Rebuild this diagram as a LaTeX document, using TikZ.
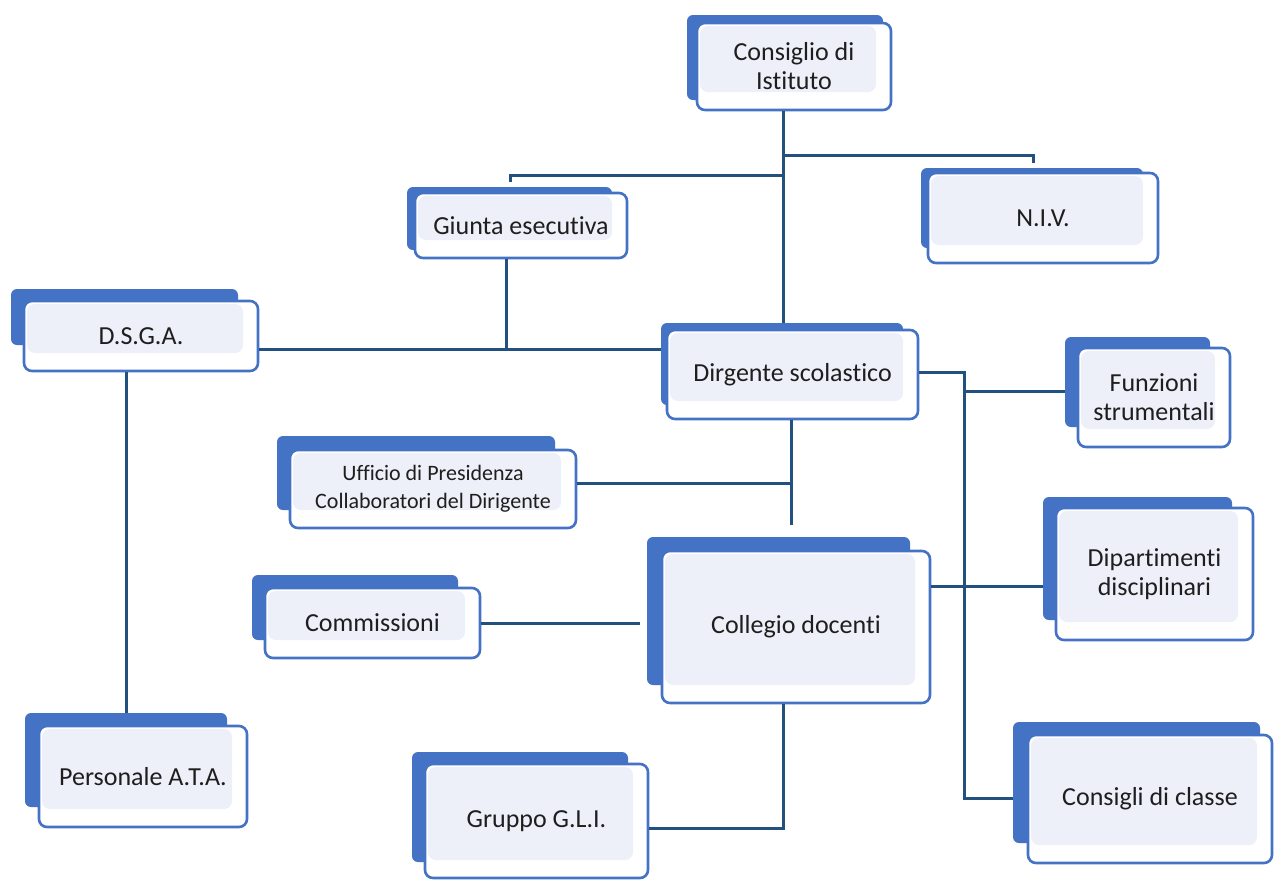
\documentclass[tikz,border=0pt]{standalone}
\usepackage{fontspec}
\setmainfont{Carlito}[RawFeature={-liga}]
\definecolor{bblue}{HTML}{4472C4}
\definecolor{lav}{HTML}{EDF0F8}
\definecolor{conncol}{HTML}{22507F}
\definecolor{txt}{HTML}{1E1E1E}
\tikzset{
  backbox/.style={fill=bblue, rounded corners=3pt, inner sep=0pt},
  frontbox/.style={draw=bblue, line width=1.3pt, fill=white, rounded corners=4pt, inner sep=0pt,
    align=center, text=txt, font=\fontsize{13}{14.5}\selectfont,
    path picture={\fill[lav] ([shift={(1.5pt,-1.5pt)}]path picture bounding box.north west)
      rectangle ([shift={(-7.5pt,9pt)}]path picture bounding box.south east);}},
  smalltext/.style={font=\fontsize{11}{14}\selectfont},
  conn/.style={draw=conncol, line width=1.5pt}
}
\newcommand\orgbx[7]{%
  \pgfmathsetmacro\cxx{(#3+#5)/2}\pgfmathsetmacro\cyy{(#4+#6)/2}%
  \pgfmathsetmacro\www{(#5-#3)*0.5}\pgfmathsetmacro\hhh{(#6-#4)*0.5}%
  \node[#1, minimum width=\www pt, minimum height=\hhh pt] (#2) at (\cxx,\cyy) {#7};}
\begin{document}
\begin{tikzpicture}[x=0.5pt,y=-0.5pt]
\useasboundingbox (0,0) rectangle (1275,880);
\fill[white] (0,0) rectangle (1275,880);
% junction coordinates
\coordinate (jtop) at (783,155);
\coordinate (jgi) at (783,175);
\coordinate (nivd) at (1033,163);
\coordinate (gid) at (510,182);
\coordinate (jd) at (506,349);
\coordinate (jr) at (964,372);
\coordinate (jf) at (964,391);
\coordinate (jdip) at (964,586);
\coordinate (jcc) at (964,798);
\coordinate (ju) at (791,483);
\coordinate (jbot) at (791,525);
\coordinate (jc) at (640,623);
\coordinate (jg) at (783,828);
% back boxes
\orgbx{backbox}{ci-b}{687}{15}{883}{100}{}
\orgbx{backbox}{ge-b}{407}{187}{612}{250}{}
\orgbx{backbox}{niv-b}{921}{168}{1143}{248}{}
\orgbx{backbox}{dsga-b}{11}{289}{238}{345}{}
\orgbx{backbox}{di-b}{661}{323}{903}{405}{}
\orgbx{backbox}{fs-b}{1065}{337}{1210}{427}{}
\orgbx{backbox}{up-b}{277}{436}{555}{510}{}
\orgbx{backbox}{dd-b}{1043}{497}{1232}{620}{}
\orgbx{backbox}{co-b}{252}{575}{458}{640}{}
\orgbx{backbox}{cd-b}{647}{537}{910}{685}{}
\orgbx{backbox}{ata-b}{25}{713}{227}{807}{}
\orgbx{backbox}{gl-b}{412}{752}{628}{862}{}
\orgbx{backbox}{cc-b}{1013}{722}{1260}{843}{}
% front boxes
\orgbx{frontbox}{ci}{697}{23}{891}{110}{Consiglio di\\Istituto}
\orgbx{frontbox}{ge}{415}{193}{627}{258}{Giunta esecutiva}
\orgbx{frontbox}{niv}{928}{173}{1158}{263}{N.I.V.}
\orgbx{frontbox}{dsga}{24}{301}{258}{371}{D.S.G.A.}
\orgbx{frontbox}{di}{667}{330}{918}{419}{Dirgente scolastico}
\orgbx{frontbox}{fs}{1078}{348}{1230}{447}{Funzioni\\strumentali}
\orgbx{frontbox,smalltext}{up}{290}{450}{576}{528}{Ufficio di Presidenza\\Collaboratori del Dirigente}
\orgbx{frontbox}{dd}{1056}{508}{1253}{640}{Dipartimenti\\disciplinari}
\orgbx{frontbox}{co}{265}{588}{480}{658}{Commissioni}
\orgbx{frontbox}{cd}{662}{551}{930}{703}{Collegio docenti}
\orgbx{frontbox}{ata}{39}{726}{247}{827}{Personale A.T.A.}
\orgbx{frontbox}{gl}{425}{764}{648}{878}{Gruppo G.L.I.}
\orgbx{frontbox}{cc}{1028}{735}{1272}{863}{Consigli di classe}
% connectors
\draw[conn] (ci.south -| jtop) -- (jtop |- di-b.north);
\draw[conn] (jtop) -| (nivd);
\draw[conn] (jgi) -| (gid);
\draw[conn] (ge.south -| jd) -- (jd);
\draw[conn] (dsga.east |- jd) -- (di-b.west |- jd);
\draw[conn] (ata-b.north) -- (ata-b.north |- dsga.south);
\draw[conn] (di.east |- jr) -- (jr) -- (jcc) -- (cc-b.west |- jcc);
\draw[conn] (jf) -- (fs-b.west |- jf);
\draw[conn] (cd.east |- jdip) -- (dd-b.west |- jdip);
\draw[conn] (di.south -| ju) -- (jbot);
\draw[conn] (up.east |- ju) -- (ju);
\draw[conn] (co.east |- jc) -- (jc);
\draw[conn] (cd.south -| jg) -- (jg) -- (gl.east |- jg);
\end{tikzpicture}
\end{document}
